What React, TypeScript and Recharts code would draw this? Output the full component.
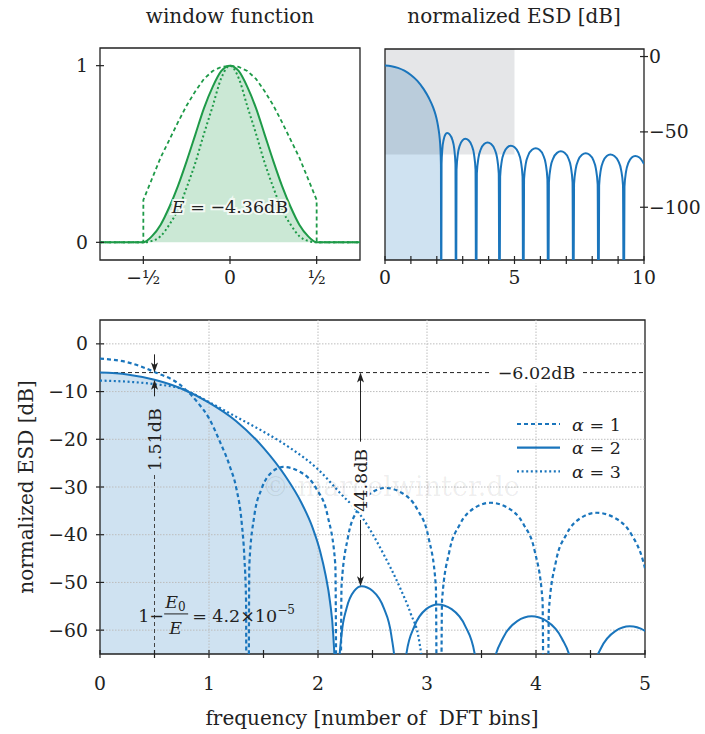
import React from 'react';
import {
  ComposedChart,
  Line,
  Area,
  XAxis,
  YAxis,
  ReferenceLine,
  ReferenceArea,
  ReferenceDot,
} from 'recharts';

type P = [number, number];

// ---------- window function (time axis, amplitude) ----------
const winAlpha1: P[] = [
  [-0.75, 0], [-0.5, 0], [-0.4999, 0.24], [-0.45, 0.36], [-0.4, 0.48], [-0.35, 0.58], [-0.3, 0.68],
  [-0.25, 0.775], [-0.2, 0.855], [-0.15, 0.925], [-0.1, 0.97], [-0.05, 0.993], [0, 1],
  [0.05, 0.993], [0.1, 0.97], [0.15, 0.925], [0.2, 0.855], [0.25, 0.775], [0.3, 0.68], [0.35, 0.58],
  [0.4, 0.48], [0.45, 0.36], [0.4999, 0.24], [0.5, 0], [0.75, 0],
];
const winAlpha2: P[] = [
  [-0.75, 0], [-0.5, 0], [-0.45, 0.035], [-0.4, 0.1], [-0.35, 0.2], [-0.3, 0.32], [-0.25, 0.46],
  [-0.2, 0.61], [-0.15, 0.76], [-0.1, 0.88], [-0.05, 0.97], [0, 1],
  [0.05, 0.97], [0.1, 0.88], [0.15, 0.76], [0.2, 0.61], [0.25, 0.46], [0.3, 0.32], [0.35, 0.2],
  [0.4, 0.1], [0.45, 0.035], [0.5, 0], [0.75, 0],
];
const winAlpha3: P[] = [
  [-0.75, 0], [-0.5, 0], [-0.45, 0.008], [-0.4, 0.035], [-0.35, 0.1], [-0.3, 0.185], [-0.25, 0.31],
  [-0.2, 0.45], [-0.15, 0.615], [-0.1, 0.77], [-0.05, 0.93], [0, 1],
  [0.05, 0.93], [0.1, 0.77], [0.15, 0.615], [0.2, 0.45], [0.25, 0.31], [0.3, 0.185], [0.35, 0.1],
  [0.4, 0.035], [0.45, 0.008], [0.5, 0], [0.75, 0],
];

// ---------- normalized ESD [dB] vs frequency [bins] ----------
const esdAlpha2Main: P[] = [
  [0, -6.02], [0.25, -6.4], [0.5, -7.53], [0.75, -9.4], [1.0, -12.3], [1.25, -16.2], [1.5, -21.8],
  [1.7, -27.7], [1.85, -33.4], [1.95, -38.5], [2.02, -43.5], [2.07, -48.5], [2.11, -54], [2.14, -61],
  [2.16, -72], [2.17, -200],
];
const esdAlpha2Side: P[] = [
  [2.184, -71.3], [2.216, -61], [2.262, -55.4], [2.331, -51.8], [2.4, -50.8], [2.502, -51.8], [2.604, -55.4], [2.672, -61], [2.72, -71.3], [2.74, -200],
  [2.762, -75.1], [2.812, -64.8], [2.884, -59.2], [2.992, -55.6], [3.1, -54.6], [3.226, -55.6], [3.352, -59.2], [3.436, -64.8], [3.495, -75.1], [3.52, -200],
  [3.546, -77.6], [3.608, -67.3], [3.696, -61.7], [3.828, -58.1], [3.96, -57.1], [4.098, -58.1], [4.236, -61.7], [4.328, -67.3], [4.392, -77.6], [4.42, -200],
  [4.446, -79.7], [4.508, -69.4], [4.596, -63.8], [4.728, -60.2], [4.86, -59.2], [5.004, -60.2], [5.148, -63.8], [5.244, -69.4], [5.311, -79.7], [5.34, -200],
  [5.369, -81.4], [5.436, -71.1], [5.532, -65.5], [5.676, -61.9], [5.82, -60.9], [5.964, -61.9], [6.108, -65.5], [6.204, -71.1], [6.271, -81.4], [6.3, -200],
  [6.329, -83.4], [6.398, -73.1], [6.496, -67.5], [6.643, -63.9], [6.79, -62.9], [6.934, -63.9], [7.078, -67.5], [7.174, -73.1], [7.241, -83.4], [7.27, -200],
  [7.299, -84.7], [7.366, -74.4], [7.462, -68.8], [7.606, -65.2], [7.75, -64.2], [7.897, -65.2], [8.044, -68.8], [8.142, -74.4], [8.211, -84.7], [8.24, -200],
  [8.268, -85.5], [8.332, -75.2], [8.424, -69.6], [8.562, -66.0], [8.7, -65.0], [8.856, -66.0], [9.012, -69.6], [9.116, -75.2], [9.189, -85.5], [9.22, -200],
  [9.246, -86.5], [9.308, -76.2], [9.396, -70.6], [9.528, -67.0], [9.66, -66.0], [9.822, -67.0], [10.0, -71.3],
];
const esdAlpha1: P[] = [
  [0, -3.1], [0.25, -3.85], [0.5, -5.9], [0.73, -8.5], [0.9, -12.4], [1.0, -15.6], [1.1, -20.5],
  [1.19, -25.6], [1.25, -30.2], [1.3, -37.5], [1.325, -45], [1.34, -54], [1.35, -200],
  [1.37, -46.3], [1.416, -36.0], [1.482, -30.4], [1.581, -26.8], [1.68, -25.8], [1.833, -26.8], [1.986, -30.4], [2.088, -36.0], [2.159, -46.3], [2.19, -200],
  [2.216, -50.7], [2.276, -40.4], [2.362, -34.8], [2.491, -31.2], [2.62, -30.2], [2.767, -31.2], [2.914, -34.8], [3.012, -40.4], [3.081, -50.7], [3.11, -200],
  [3.138, -53.8], [3.205, -43.5], [3.3, -37.9], [3.442, -34.3], [3.584, -33.3], [3.736, -34.3], [3.888, -37.9], [3.989, -43.5], [4.06, -53.8], [4.09, -200],
  [4.118, -55.9], [4.183, -45.6], [4.277, -40.0], [4.417, -36.4], [4.557, -35.4], [4.717, -36.4], [4.877, -40.0], [4.984, -45.6], [5.0, -47.0],
];
const esdAlpha3: P[] = [
  [0, -7.7], [0.3, -8.0], [0.5, -8.45], [0.75, -9.4], [1.0, -12.2], [1.25, -15.3], [1.5, -18.4],
  [1.75, -21.9], [2.0, -26.3], [2.2, -31.2], [2.4, -36.2], [2.6, -44], [2.75, -51], [2.85, -56.5],
  [2.93, -62.5], [2.97, -72], [2.99, -200],
];

// ---------- ticks ----------
const winXTicks = [-0.5, 0, 0.5];
const winXLabels: Record<string, string> = { '-0.5': '−½', '0': '0', '0.5': '½' };
const winYTicks = [0, 1];
const topEsdXTicks = [0, 1, 2, 3, 4, 5, 6, 7, 8, 9, 10];
const topEsdXLabeled = [0, 5, 10];
const topEsdYTicks = [0, -50, -100];
const mainXTicks = [0, 0.5, 1, 1.5, 2, 2.5, 3, 3.5, 4, 4.5, 5];
const mainYTicks = [0, -10, -20, -30, -40, -50, -60];
const gridX = [1, 2, 3, 4];

const legendItems = [
  { label: '1', dash: '4 3' },
  { label: '2', dash: undefined },
  { label: '3', dash: '2 2.6' },
];

const FONT = '"DejaVu Serif", "Liberation Serif", serif';
const BLUE = '#1a75bc';
const GREEN = '#1e9a48';
const INK = '#222222';
const FS = 18.8;
const LFS = 20;
const AFS = 17.5;

const rows = (pts: P[]) => pts.map(([x, y]) => ({ x, y }));
const fmt = (v: number) => (v < 0 ? `−${Math.abs(v)}` : `${v}`);

const TickMark = ({ x, y, vertical }: { x: number; y: number; vertical: boolean }) =>
  vertical ? (
    <line x1={x} x2={x} y1={y - 4} y2={y + 4} stroke={INK} strokeWidth={1.2} />
  ) : (
    <line x1={x - 4} x2={x + 4} y1={y} y2={y} stroke={INK} strokeWidth={1.2} />
  );

const WinXTick = (p: any) => (
  <g>
    <TickMark x={p.x} y={p.y} vertical />
    <text x={p.x} y={p.y + 24} textAnchor="middle" fontFamily={FONT} fontSize={FS} fill={INK}>
      {winXLabels[String(p.payload.value)]}
    </text>
  </g>
);
const WinYTick = (p: any) => (
  <g>
    <TickMark x={p.x} y={p.y} vertical={false} />
    <text x={p.x - 12} y={p.y + 6.5} textAnchor="end" fontFamily={FONT} fontSize={FS} fill={INK}>
      {fmt(p.payload.value)}
    </text>
  </g>
);
const TopEsdXTick = (p: any) => (
  <g>
    <TickMark x={p.x} y={p.y} vertical />
    {topEsdXLabeled.includes(p.payload.value) && (
      <text x={p.x} y={p.y + 24} textAnchor="middle" fontFamily={FONT} fontSize={FS} fill={INK}>
        {fmt(p.payload.value)}
      </text>
    )}
  </g>
);
const TopEsdYTick = (p: any) => (
  <g>
    <TickMark x={p.x} y={p.y} vertical={false} />
    <text x={p.x + 5} y={p.y + 6.5} textAnchor="start" fontFamily={FONT} fontSize={FS} fill={INK}>
      {fmt(p.payload.value)}
    </text>
  </g>
);
const MainXTick = (p: any) => (
  <g>
    <TickMark x={p.x} y={p.y} vertical />
    {Number.isInteger(p.payload.value) && (
      <text x={p.x} y={p.y + 36} textAnchor="middle" fontFamily={FONT} fontSize={FS} fill={INK}>
        {fmt(p.payload.value)}
      </text>
    )}
  </g>
);
const MainYTick = (p: any) => (
  <g>
    <TickMark x={p.x} y={p.y} vertical={false} />
    <text x={p.x - 12} y={p.y + 6.5} textAnchor="end" fontFamily={FONT} fontSize={FS} fill={INK}>
      {fmt(p.payload.value)}
    </text>
  </g>
);

const arrowDown = (p: any) => (
  <path d={`M${p.cx},${p.cy} L${p.cx - 3.5},${p.cy - 10} L${p.cx},${p.cy - 7.5} L${p.cx + 3.5},${p.cy - 10} Z`} fill={INK} />
);
const arrowUp = (p: any) => (
  <path d={`M${p.cx},${p.cy} L${p.cx - 3.5},${p.cy + 10} L${p.cx},${p.cy + 7.5} L${p.cx + 3.5},${p.cy + 10} Z`} fill={INK} />
);

const absStyle: React.CSSProperties = { position: 'absolute', left: 0, top: 0 };

export default function App() {
  return (
    <div style={{ position: 'absolute', left: 0, top: 0, width: 705, height: 734, background: '#fff', overflow: 'hidden' }}>
      {/* ---------------- window function ---------------- */}
      <ComposedChart width={705} height={734} margin={{ top: 48, right: 345, bottom: 473, left: 99 }} style={absStyle}>
        <XAxis type="number" dataKey="x" domain={[-0.75, 0.75]} ticks={winXTicks} interval={0} allowDataOverflow height={1} tickSize={0} tickMargin={0} axisLine={false} tickLine={false} tick={WinXTick} />
        <YAxis type="number" dataKey="y" domain={[-0.1, 1.1]} ticks={winYTicks} interval={0} allowDataOverflow width={1} tickSize={0} tickMargin={0} axisLine={false} tickLine={false} tick={WinYTick} />
        <Area data={rows(winAlpha2)} dataKey="y" type="monotone" baseValue={0} fill={GREEN} fillOpacity={0.23} stroke="none" isAnimationActive={false} />
        <Line data={rows(winAlpha1)} dataKey="y" type="linear" stroke={GREEN} strokeWidth={1.8} strokeDasharray="4 3" dot={false} isAnimationActive={false} />
        <Line data={rows(winAlpha3)} dataKey="y" type="monotone" stroke={GREEN} strokeWidth={2} strokeDasharray="2 2.6" dot={false} isAnimationActive={false} />
        <Line data={rows(winAlpha2)} dataKey="y" type="monotone" stroke={GREEN} strokeWidth={2} dot={false} isAnimationActive={false} />
        <ReferenceDot
          x={0}
          y={0.2}
          shape={(p: any) => (
            <text x={p.cx} y={p.cy + 6} textAnchor="middle" fontFamily={FONT} fontSize={AFS} fill={INK} stroke="#ffffff" strokeOpacity={0.75} strokeWidth={4} paintOrder="stroke">
              <tspan fontStyle="italic">E</tspan> = −4.36dB
            </text>
          )}
        />
        <ReferenceArea x1={-0.75} x2={0.75} y1={-0.1} y2={1.1} fill="none" stroke={INK} strokeWidth={1.3} />
      </ComposedChart>

      {/* ---------------- normalized ESD (overview) ---------------- */}
      <ComposedChart width={705} height={734} margin={{ top: 49, right: 60, bottom: 473, left: 385 }} style={absStyle}>
        <XAxis type="number" dataKey="x" domain={[0, 10]} ticks={topEsdXTicks} interval={0} allowDataOverflow height={1} tickSize={0} tickMargin={0} axisLine={false} tickLine={false} tick={TopEsdXTick} />
        <YAxis type="number" dataKey="y" orientation="right" domain={[-135, 5]} ticks={topEsdYTicks} interval={0} allowDataOverflow width={1} tickSize={0} tickMargin={0} axisLine={false} tickLine={false} tick={TopEsdYTick} />
        <Area data={rows(esdAlpha2Main)} dataKey="y" type="monotone" baseValue={-135} fill={BLUE} fillOpacity={0.21} stroke="none" isAnimationActive={false} />
        <ReferenceArea x1={0} x2={5} y1={-65} y2={5} fill="#283040" fillOpacity={0.12} stroke="none" />
        <Line data={rows([...esdAlpha2Main, ...esdAlpha2Side])} dataKey="y" type="monotone" stroke={BLUE} strokeWidth={2} dot={false} isAnimationActive={false} />
        <ReferenceArea x1={0} x2={10} y1={-135} y2={5} fill="none" stroke={INK} strokeWidth={1.3} />
      </ComposedChart>

      {/* ---------------- normalized ESD (detail) ---------------- */}
      <ComposedChart width={705} height={734} margin={{ top: 320, right: 60, bottom: 79, left: 99 }} style={absStyle}>
        <XAxis type="number" dataKey="x" domain={[0, 5]} ticks={mainXTicks} interval={0} allowDataOverflow height={1} tickSize={0} tickMargin={0} axisLine={false} tickLine={false} tick={MainXTick} />
        <YAxis type="number" dataKey="y" domain={[-65, 5]} ticks={mainYTicks} interval={0} allowDataOverflow width={1} tickSize={0} tickMargin={0} axisLine={false} tickLine={false} tick={MainYTick} />
        {gridX.map((v) => (
          <ReferenceLine key={`gx${v}`} x={v} stroke="#bdbdbd" strokeDasharray="1.5 1.5" />
        ))}
        {mainYTicks.map((v) => (
          <ReferenceLine key={`gy${v}`} y={v} stroke="#bdbdbd" strokeDasharray="1.5 1.5" />
        ))}
        <Area data={rows(esdAlpha2Main)} dataKey="y" type="monotone" baseValue={-65} fill={BLUE} fillOpacity={0.21} stroke="none" isAnimationActive={false} />
        <ReferenceLine y={-6.02} stroke={INK} strokeWidth={1} strokeDasharray="4 3" />
        <Line data={rows(esdAlpha1)} dataKey="y" type="monotone" stroke={BLUE} strokeWidth={2.2} strokeDasharray="4 3" dot={false} isAnimationActive={false} />
        <Line data={rows(esdAlpha3)} dataKey="y" type="monotone" stroke={BLUE} strokeWidth={2.2} strokeDasharray="2 2.6" dot={false} isAnimationActive={false} />
        <Line data={rows([...esdAlpha2Main, ...esdAlpha2Side])} dataKey="y" type="monotone" stroke={BLUE} strokeWidth={2} dot={false} isAnimationActive={false} />

        {/* 1.51 dB annotation */}
        <ReferenceLine segment={[{ x: 0.5, y: -65 }, { x: 0.5, y: -27.2 }]} stroke="#444" strokeWidth={1} strokeDasharray="4 3" />
        <ReferenceLine segment={[{ x: 0.5, y: -2.2 }, { x: 0.5, y: -5.0 }]} stroke={INK} strokeWidth={1} />
        <ReferenceDot x={0.5} y={-6.02} shape={arrowDown} />
        <ReferenceLine segment={[{ x: 0.5, y: -11 }, { x: 0.5, y: -8.6 }]} stroke={INK} strokeWidth={1} />
        <ReferenceDot x={0.5} y={-7.53} shape={arrowUp} />
        <ReferenceDot
          x={0.5}
          y={-20.1}
          shape={(p: any) => (
            <text transform={`translate(${p.cx},${p.cy}) rotate(-90)`} x={0} y={6} textAnchor="middle" fontFamily={FONT} fontSize={AFS} fill={INK}>
              1.51dB
            </text>
          )}
        />

        {/* 44.8 dB annotation */}
        <ReferenceLine segment={[{ x: 2.39, y: -20.5 }, { x: 2.39, y: -7.2 }]} stroke={INK} strokeWidth={1} />
        <ReferenceDot x={2.39} y={-6.02} shape={arrowUp} />
        <ReferenceLine segment={[{ x: 2.39, y: -36.9 }, { x: 2.39, y: -49.6 }]} stroke={INK} strokeWidth={1} />
        <ReferenceDot x={2.39} y={-50.8} shape={arrowDown} />
        <ReferenceDot
          x={2.39}
          y={-28.6}
          shape={(p: any) => (
            <text transform={`translate(${p.cx},${p.cy}) rotate(-90)`} x={0} y={6} textAnchor="middle" fontFamily={FONT} fontSize={AFS} fill={INK} stroke="#ffffff" strokeWidth={5} paintOrder="stroke">
              44.8dB
            </text>
          )}
        />

        {/* -6.02 dB label */}
        <ReferenceDot
          x={4.005}
          y={-6.02}
          shape={(p: any) => (
            <g>
              <rect x={p.cx - 45} y={p.cy - 11} width={90} height={22} fill="#ffffff" />
              <text x={p.cx} y={p.cy + 6.5} textAnchor="middle" fontFamily={FONT} fontSize={AFS} fill={INK}>
                −6.02dB
              </text>
            </g>
          )}
        />

        {/* energy concentration formula */}
        <ReferenceDot
          x={0.35}
          y={-56.6}
          shape={(p: any) => (
            <g fontFamily={FONT} fontSize={AFS} fill={INK}>
              <text x={p.cx} y={p.cy + 8}>1−</text>
              <text x={p.cx + 27} y={p.cy - 6}>
                <tspan fontStyle="italic">E</tspan>
                <tspan fontSize={12} dy={3}>0</tspan>
              </text>
              <line x1={p.cx + 26} x2={p.cx + 50} y1={p.cy} y2={p.cy} stroke={INK} strokeWidth={1} />
              <text x={p.cx + 31} y={p.cy + 20} fontStyle="italic">E</text>
              <text x={p.cx + 54} y={p.cy + 8}>
                = 4.2×10
                <tspan fontSize={12} dy={-8}>−5</tspan>
              </text>
            </g>
          )}
        />

        <ReferenceArea x1={0} x2={5} y1={-65} y2={5} fill="none" stroke={INK} strokeWidth={1.3} />
      </ComposedChart>

      {/* ---------------- titles, axis labels, legend ---------------- */}
      <svg width={705} height={734} style={{ ...absStyle, pointerEvents: 'none' }}>
        <text x={230} y={23} textAnchor="middle" fontFamily={FONT} fontSize={LFS} fill={INK}>window function</text>
        <text x={514} y={23} textAnchor="middle" fontFamily={FONT} fontSize={LFS} fill={INK}>normalized ESD [dB]</text>
        <text transform="translate(33,487) rotate(-90)" textAnchor="middle" fontFamily={FONT} fontSize={LFS} fill={INK}>normalized ESD [dB]</text>
        <text x={372} y={725} textAnchor="middle" fontFamily={FONT} fontSize={LFS} fill={INK} style={{ whiteSpace: 'pre' }}>frequency [number of  DFT bins]</text>
        <text x={262} y={496} fontFamily={FONT} fontSize={27} fill="#000" fillOpacity={0.07}>© marcelwinter.de</text>
        {legendItems.map((it, i) => (
          <g key={it.label}>
            <line x1={517} x2={560} y1={424 + i * 23.7} y2={424 + i * 23.7} stroke={BLUE} strokeWidth={2.2} strokeDasharray={it.dash} />
            <text x={572} y={424 + i * 23.7 + 6.5} fontFamily={FONT} fontSize={AFS} fill={INK}>
              <tspan fontStyle="italic">α</tspan> = {it.label}
            </text>
          </g>
        ))}
      </svg>
    </div>
  );
}
